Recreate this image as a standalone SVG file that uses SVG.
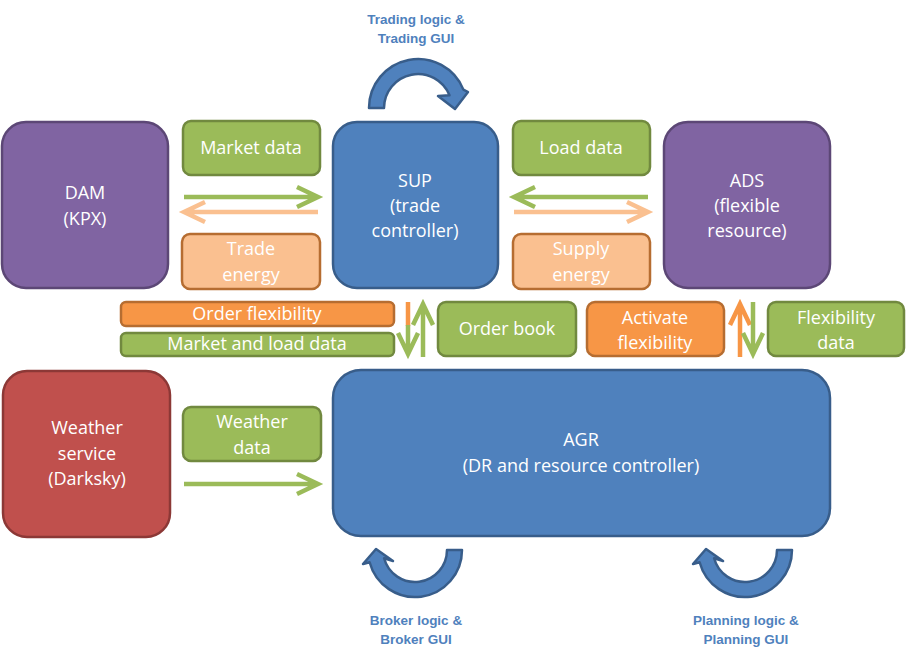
<svg xmlns="http://www.w3.org/2000/svg" width="907" height="657" viewBox="0 0 907 657">
<style>
.t{font-family:"Open Sans","Liberation Sans",sans-serif;font-size:18px;fill:#fff;text-anchor:middle}
.lbl{font-family:"Liberation Sans",Arial,sans-serif;font-size:13.5px;font-weight:bold;fill:#4F81BD;text-anchor:middle}
.g{fill:#9BBB59;stroke:#71893F;stroke-width:2.5}
.o{fill:#F79646;stroke:#B66D31;stroke-width:2.5}
.lo{fill:#FAC090;stroke:#B66D31;stroke-width:2.5}
.p{fill:#8064A2;stroke:#5C4776;stroke-width:2.5}
.b{fill:#4F81BD;stroke:#385D8A;stroke-width:2.5}
.r{fill:#C0504D;stroke:#8C3836;stroke-width:2.5}
.ag{stroke:#9BBB59;stroke-width:4.5;fill:none}
.ao{stroke:#FAC090;stroke-width:4.5;fill:none}
.aO{stroke:#F79646;stroke-width:4.5;fill:none}
.ca{fill:#4F81BD;stroke:#385D8A;stroke-width:2.5;stroke-linejoin:round}
</style>
<g id="connectors">
<!-- DAM <-> SUP -->
<path class="ag" d="M184 197 H316 M297 187 L318 197 L297 207"/>
<path class="ao" d="M318 212 H186 M205 202 L184 212 L205 222"/>
<!-- ADS <-> SUP -->
<path class="ag" d="M648 197 H516 M535 187 L514 197 L535 207"/>
<path class="ao" d="M514 212 H646 M627 202 L648 212 L627 222"/>
<!-- SUP <-> AGR -->
<path class="aO" d="M408 302 V326"/>
<path class="ag" d="M408 325 V352 M398 333 L408 354 L418 333"/>
<path class="ag" d="M423 357 V307 M413 325 L423 304 L433 325"/>
<!-- ADS <-> AGR -->
<path class="aO" d="M740 357 V307 M730 325 L740 304 L750 325"/>
<path class="ag" d="M753 302 V352 M743 333 L753 354 L763 333"/>
<!-- Weather -> AGR -->
<path class="ag" d="M184 484 H316 M297 474 L318 484 L297 494"/>
<!-- self loops -->
<path class="ca" d="M369 108 A49 49 0 0 1 463.4 89.6 L468 92 L455 109 L438 96 L449.5 95.3 A34 34 0 0 0 384 108 Z"/>
<path class="ca" d="M462 550 A47 47 0 0 1 369.6 562.2 L363 564 L376 549 L393 561 L384.1 558.3 A32 32 0 0 0 447 550 Z"/>
<path class="ca" d="M792 550 A47 47 0 0 1 699.6 562.2 L693 564 L706 549 L723 561 L714.1 558.3 A32 32 0 0 0 777 550 Z"/>
</g>
<g id="DAM"><rect class="p" x="2" y="122" width="166" height="166" rx="24"/><text class="t" x="85" y="199">DAM</text><text class="t" x="85" y="225">(KPX)</text></g>
<g id="SUP"><rect class="b" x="333" y="122" width="165" height="166" rx="24"/><text class="t" x="415" y="187">SUP</text><text class="t" x="415" y="212">(trade</text><text class="t" x="415" y="237">controller)</text></g>
<g id="ADS"><rect class="p" x="664" y="122" width="166" height="166" rx="24"/><text class="t" x="747" y="187">ADS</text><text class="t" x="747" y="212">(flexible</text><text class="t" x="747" y="237">resource)</text></g>
<g id="Weather"><rect class="r" x="3" y="371" width="167" height="166" rx="24"/><text class="t" x="87" y="434">Weather</text><text class="t" x="87" y="460">service</text><text class="t" x="87" y="485">(Darksky)</text></g>
<g id="AGR"><rect class="b" x="333" y="370" width="497" height="166" rx="28"/><text class="t" x="581" y="446">AGR</text><text class="t" x="581" y="472">(DR and resource controller)</text></g>
<g id="MarketData"><rect class="g" x="183" y="121" width="137" height="54" rx="8"/><text class="t" x="251" y="154">Market data</text></g>
<g id="TradeEnergy"><rect class="lo" x="182" y="234" width="138" height="55" rx="8"/><text class="t" x="251" y="255">Trade</text><text class="t" x="251" y="281">energy</text></g>
<g id="LoadData"><rect class="g" x="513" y="121" width="137" height="54" rx="8"/><text class="t" x="581" y="154">Load data</text></g>
<g id="SupplyEnergy"><rect class="lo" x="513" y="234" width="137" height="55" rx="8"/><text class="t" x="581" y="255">Supply</text><text class="t" x="581" y="281">energy</text></g>
<g id="OrderFlexibility"><rect class="o" x="121" y="302" width="273" height="24" rx="5"/><text class="t" x="257" y="320">Order flexibility</text></g>
<g id="MarketLoadData"><rect class="g" x="121" y="333" width="273" height="23" rx="5"/><text class="t" x="257" y="350">Market and load data</text></g>
<g id="OrderBook"><rect class="g" x="438" y="302" width="138" height="54" rx="8"/><text class="t" x="507" y="335">Order book</text></g>
<g id="ActivateFlexibility"><rect class="o" x="587" y="302" width="137" height="54" rx="8"/><text class="t" x="655" y="324">Activate</text><text class="t" x="655" y="349">flexibility</text></g>
<g id="FlexibilityData"><rect class="g" x="768" y="302" width="136" height="54" rx="8"/><text class="t" x="836" y="324">Flexibility</text><text class="t" x="836" y="349">data</text></g>
<g id="WeatherData"><rect class="g" x="183" y="407" width="138" height="54" rx="8"/><text class="t" x="252" y="428">Weather</text><text class="t" x="252" y="454">data</text></g>
<g id="labels">
<text class="lbl" x="416" y="24">Trading logic &amp;</text><text class="lbl" x="416" y="43">Trading GUI</text>
<text class="lbl" x="416" y="625">Broker logic &amp;</text><text class="lbl" x="416" y="644">Broker GUI</text>
<text class="lbl" x="746" y="625">Planning logic &amp;</text><text class="lbl" x="746" y="644">Planning GUI</text>
</g>
</svg>
